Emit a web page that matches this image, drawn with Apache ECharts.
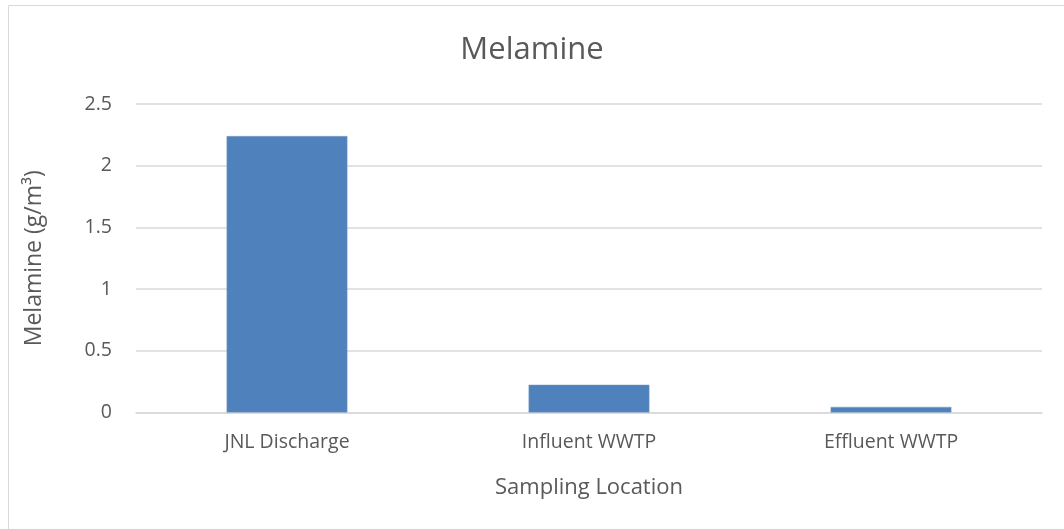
<!DOCTYPE html>
<html>
<head>
<meta charset="utf-8">
<script src="https://cdn.jsdelivr.net/npm/echarts@6/dist/echarts.min.js"></script>
<style>
html,body{margin:0;padding:0;background:#fff;}
#chart{width:1064px;height:529px;}
</style>
</head>
<body>
<div id="chart"></div>
<script>
const titleText = "Melamine";
const categories = ["JNL Discharge", "Influent WWTP", "Effluent WWTP"];
const melamine = [2.24, 0.225, 0.045];
const yAxisName = "Melamine (g/m³)";
const xAxisName = "Sampling Location";

const FONT = "Open Sans";
const chart = echarts.init(document.getElementById('chart'), null, {renderer: 'canvas'});
chart.setOption({
  backgroundColor: '#ffffff',
  animation: false,
  graphic: [{
    type: 'rect',
    shape: {x: 8.5, y: 5.5, width: 1100, height: 600},
    style: {fill: 'none', stroke: '#d9d9d9', lineWidth: 1},
    silent: true,
    z: -10
  }],
  title: {
    text: titleText,
    left: 'center',
    top: 30,
    textStyle: {fontFamily: FONT, fontSize: 31, fontWeight: 'normal', color: '#595959'}
  },
  grid: {left: 136, right: 22, top: 104, bottom: 116.5, containLabel: false},
  xAxis: {
    type: 'category',
    data: categories,
    name: xAxisName,
    nameLocation: 'middle',
    nameGap: 64,
    nameTextStyle: {fontFamily: FONT, fontSize: 22, color: '#595959'},
    axisLine: {show: true, lineStyle: {color: '#d9d9d9', width: 1.5}},
    axisTick: {show: false},
    axisLabel: {fontFamily: FONT, fontSize: 19.5, color: '#595959', margin: 20}
  },
  yAxis: {
    type: 'value',
    min: 0,
    max: 2.5,
    interval: 0.5,
    name: yAxisName,
    nameLocation: 'middle',
    nameGap: 90,
    nameTextStyle: {fontFamily: FONT, fontSize: 23, color: '#595959'},
    axisLine: {show: false},
    axisTick: {show: false},
    axisLabel: {fontFamily: FONT, fontSize: 19.5, color: '#595959', margin: 24},
    splitLine: {lineStyle: {color: '#d9d9d9', width: 1.5}}
  },
  series: [{
    type: 'bar',
    data: melamine,
    barWidth: '40%',
    itemStyle: {color: '#4F81BD', borderColor: '#7c9fcc', borderWidth: 0.5}
  }]
});
</script>
</body>
</html>
